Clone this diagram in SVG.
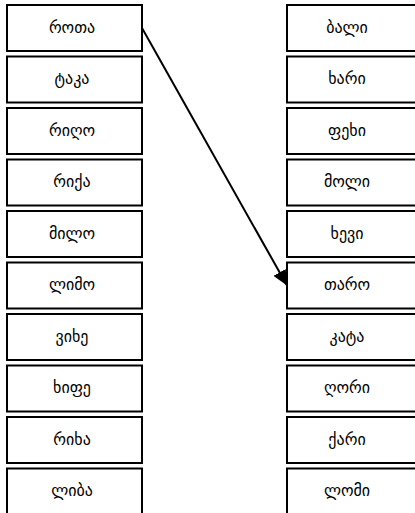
<svg xmlns="http://www.w3.org/2000/svg" width="415" height="513" viewBox="0 0 415 513">
<style>
.box rect{fill:#fff;stroke:#000;stroke-width:2}
.box text{font-family:"DejaVu Sans","Noto Sans",sans-serif;font-size:16px;text-anchor:middle;dominant-baseline:central;fill:#000}
.conn{stroke:#000;stroke-width:2;fill:none}
</style>
<defs>
<marker id="ah" markerWidth="16" markerHeight="14" refX="15" refY="7" orient="auto" markerUnits="userSpaceOnUse">
<path d="M0,0 L15,7 L0,14 z" fill="#000"/>
</marker>
</defs>
<rect width="415" height="513" fill="#fff"/>
<g id="L1" class="box"><rect x="7" y="5" width="135" height="46"/><text x="72" y="27">როთა</text></g>
<g id="L2" class="box"><rect x="7" y="56.5" width="135" height="46"/><text x="72" y="78.5">ტაკა</text></g>
<g id="L3" class="box"><rect x="7" y="108" width="135" height="46"/><text x="72" y="130">რიღო</text></g>
<g id="L4" class="box"><rect x="7" y="159.5" width="135" height="46"/><text x="72" y="181.5">რიქა</text></g>
<g id="L5" class="box"><rect x="7" y="211" width="135" height="46"/><text x="72" y="233">მილო</text></g>
<g id="L6" class="box"><rect x="7" y="262.5" width="135" height="46"/><text x="72" y="284.5">ლიმო</text></g>
<g id="L7" class="box"><rect x="7" y="314" width="135" height="46"/><text x="72" y="336">ვიხე</text></g>
<g id="L8" class="box"><rect x="7" y="365.5" width="135" height="46"/><text x="72" y="387.5">ხიფე</text></g>
<g id="L9" class="box"><rect x="7" y="417" width="135" height="46"/><text x="72" y="439">რიხა</text></g>
<g id="L10" class="box"><rect x="7" y="468.5" width="135" height="46"/><text x="72" y="490.5">ლიბა</text></g>
<g id="R1" class="box"><rect x="287" y="5" width="135" height="46"/><text x="347" y="27">ბალი</text></g>
<g id="R2" class="box"><rect x="287" y="56.5" width="135" height="46"/><text x="347" y="78.5">ხარი</text></g>
<g id="R3" class="box"><rect x="287" y="108" width="135" height="46"/><text x="347" y="130">ფეხი</text></g>
<g id="R4" class="box"><rect x="287" y="159.5" width="135" height="46"/><text x="347" y="181.5">მოლი</text></g>
<g id="R5" class="box"><rect x="287" y="211" width="135" height="46"/><text x="347" y="233">ხევი</text></g>
<g id="R6" class="box"><rect x="287" y="262.5" width="135" height="46"/><text x="347" y="284.5">თარო</text></g>
<g id="R7" class="box"><rect x="287" y="314" width="135" height="46"/><text x="347" y="336">კატა</text></g>
<g id="R8" class="box"><rect x="287" y="365.5" width="135" height="46"/><text x="347" y="387.5">ღორი</text></g>
<g id="R9" class="box"><rect x="287" y="417" width="135" height="46"/><text x="347" y="439">ქარი</text></g>
<g id="R10" class="box"><rect x="287" y="468.5" width="135" height="46"/><text x="347" y="490.5">ლომი</text></g>
<g id="connectors">
<line class="conn" x1="142" y1="28" x2="287" y2="285.5" marker-end="url(#ah)"/>
</g>
</svg>
